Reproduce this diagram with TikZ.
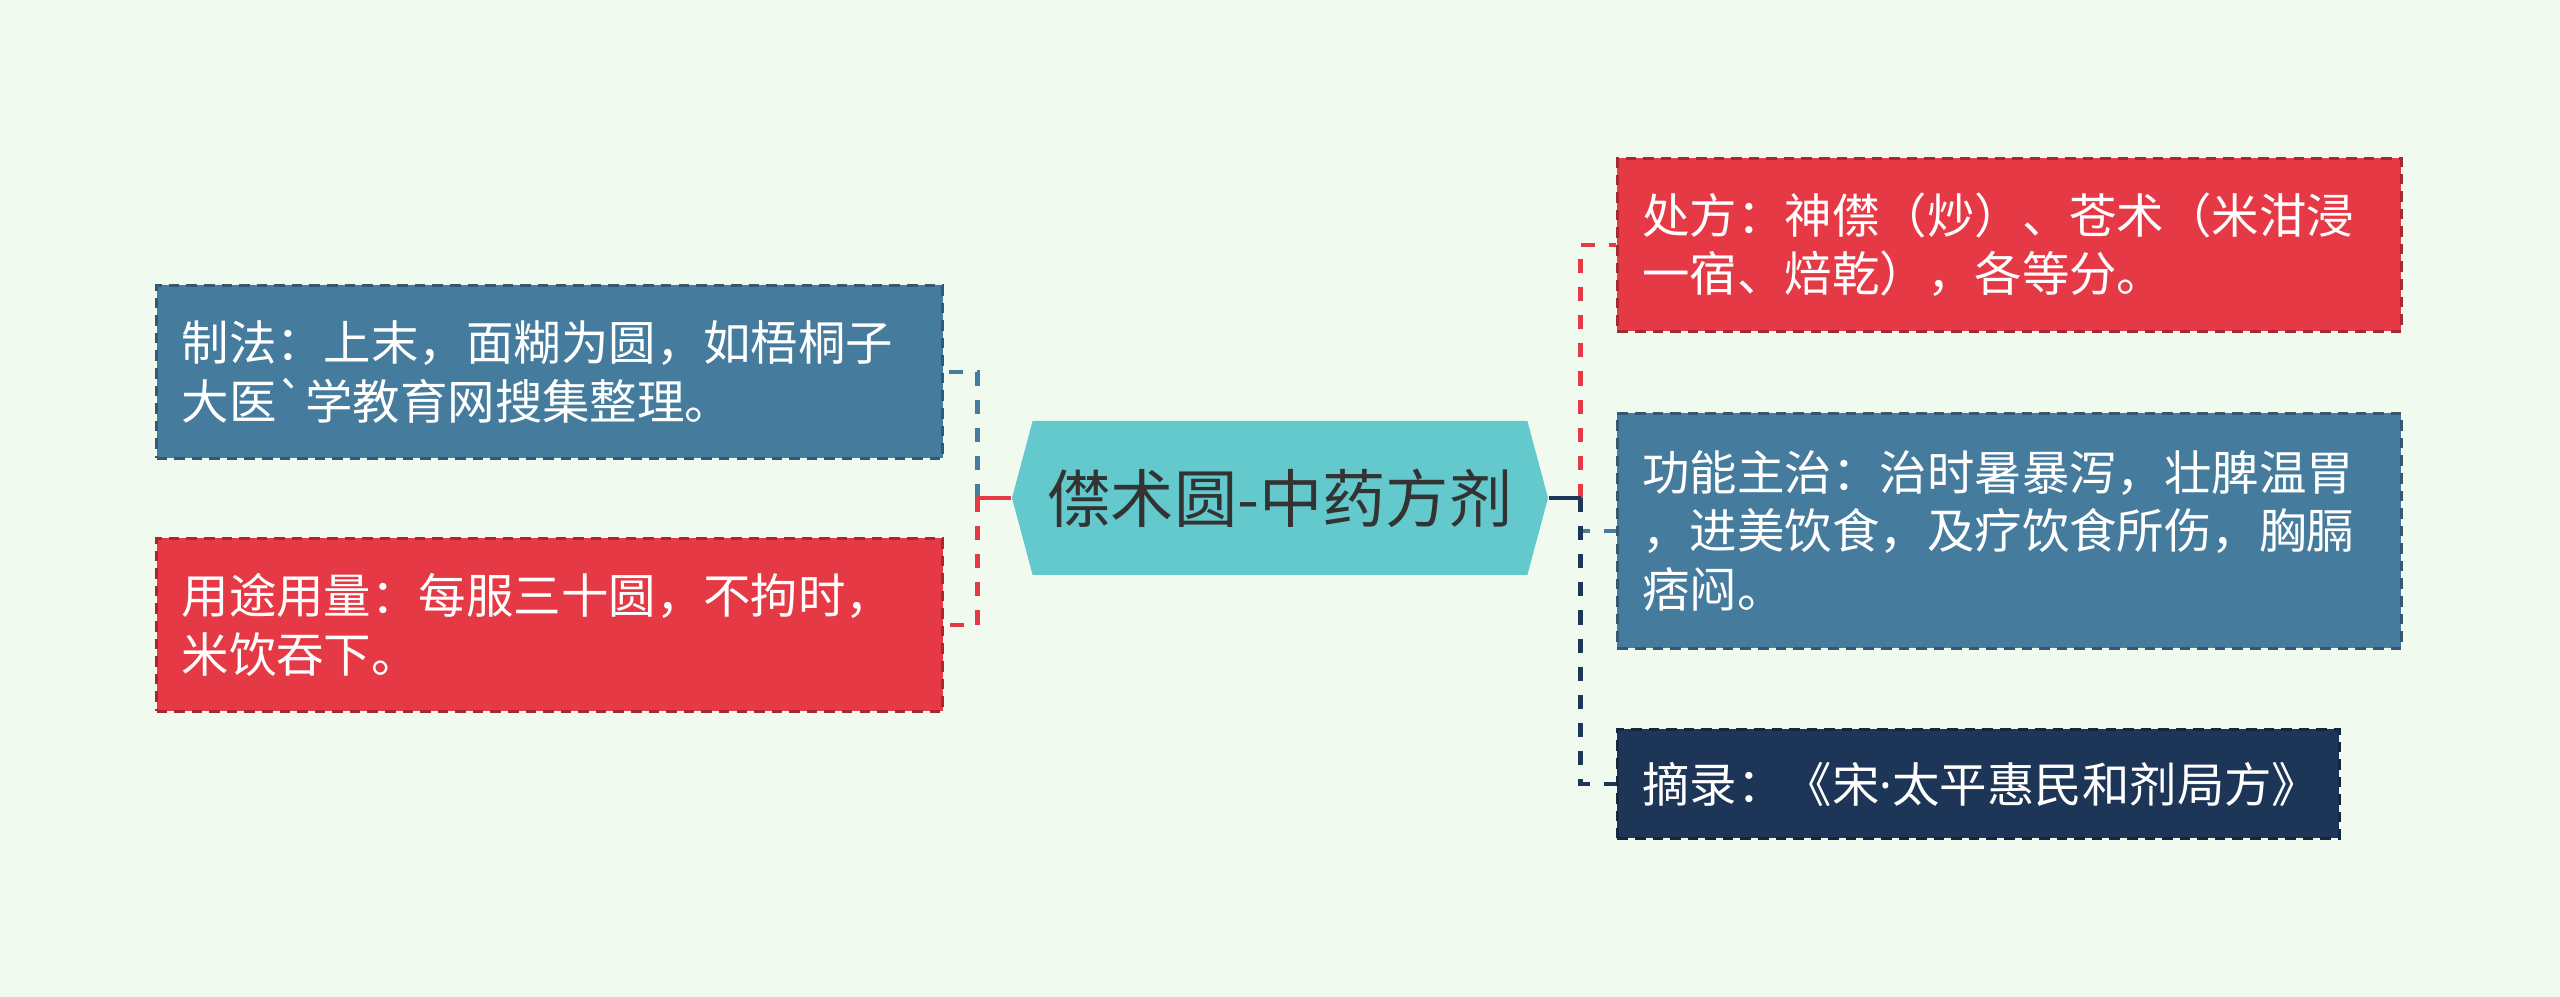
\documentclass[tikz,border=0pt]{standalone}
\definecolor{pagemint}{RGB}{241, 250, 238}
\definecolor{leafred}{RGB}{230, 57, 70}
\definecolor{leafsteel}{RGB}{69, 123, 157}
\definecolor{leafnavy}{RGB}{29, 53, 87}
\definecolor{rootteal}{RGB}{99, 201, 204}
\definecolor{rootink}{RGB}{51, 51, 51}
\usepackage{fontspec}
\newfontfamily\cjk{Noto Sans CJK SC}
\newfontfamily\latinsans{Noto Sans}
\usepackage{tikz}
\usetikzlibrary{positioning, shapes.symbols}
\tikzset{
  leaf/.style={fill=#1, draw=#1!72!black, dash pattern=on 3pt off 2pt,
               line width=0.8pt, text=white, inner xsep=0.25cm, inner ysep=0pt,
               align=left, font=\cjk\fontsize{13.5}{16.6}\selectfont},
  twig/.style={line width=1.3pt, dash pattern=on 4pt off 4pt},
  stem/.style={line width=1.3pt}
}

\begin{document}
\begin{tikzpicture}
        \useasboundingbox (0,0) rectangle (25.6,9.97);
        \fill[pagemint] (0,0) rectangle (25.6,9.97);
        \node[signal, signal to=west and east, signal pointer angle=150,
              fill=rootteal, text=rootink, inner sep=0pt,
              minimum width=5.36cm, minimum height=1.54cm,
              font=\cjk\fontsize{18}{22}\selectfont] (root)
              at (12.80, 4.99) {僸术圆-中药方剂};
        \node[leaf=leafsteel, anchor=east, text width=7.36cm,
              minimum height=1.73cm] (craft)
              at (9.44, 6.25) {制法：上末，面糊为圆，如梧桐子\\大医{\char"60}学教育网搜集整理。};
        \node[leaf=leafred, anchor=east, text width=7.36cm,
              minimum height=1.73cm] (usage)
              at (9.44, 3.72) {用途用量：每服三十圆，不拘时，\\米饮吞下。};
        \node[leaf=leafred, anchor=west, text width=7.34cm,
              minimum height=1.73cm] (recipe)
              at (16.16, 7.52) {处方：神僸（炒）、苍术（米泔浸\\一宿、焙乾），各等分。};
        \node[leaf=leafsteel, anchor=west, text width=7.34cm,
              minimum height=2.35cm] (effect)
              at (16.16, 4.66) {功能主治：治时暑暴泻，壮脾温胃\\，进美饮食，及疗饮食所伤，胸膈\\痞闷。};
        \node[leaf=leafnavy, anchor=west, text width=6.72cm,
              minimum height=1.09cm] (source)
              at (16.16, 2.13) {摘录：《宋{\latinsans ·}太平惠民和剂局方》};
        \coordinate (lhub) at ([xshift=-0.34cm]root.west);
        \coordinate (rhub) at ([xshift=0.32cm]root.east);
        \draw[twig, leafsteel] (lhub) |- (craft.east);
        \draw[twig, leafred] (lhub) |- (usage.east);
        \draw[stem, leafred] (root.west) -- (lhub);
        \draw[twig, leafred] (rhub) |- (recipe.west);
        \draw[twig, leafsteel] (rhub) |- (effect.west);
        \draw[twig, leafnavy] (rhub) |- (source.west);
        \draw[stem, leafnavy] (root.east) -- (rhub);
      \end{tikzpicture}
\end{document}
